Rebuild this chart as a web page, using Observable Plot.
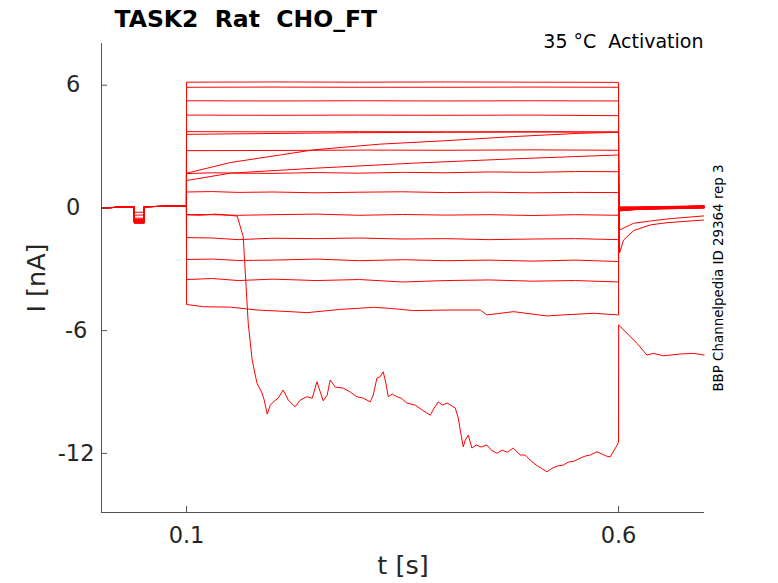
<!DOCTYPE html>
<html><head><meta charset="utf-8">
<script src="https://cdn.jsdelivr.net/npm/d3@7"></script>
<script src="https://cdn.jsdelivr.net/npm/@observablehq/plot@0.6"></script>
<style>
html,body{margin:0;padding:0;background:#fff;}
svg text{white-space:pre;}
</style></head><body><div id="chart"></div>
<script>
const title = "TASK2  Rat  CHO_FT";
const subtitle = "35 °C  Activation";
const sideNote = "BBP Channelpedia ID 29364 rep 3";
const xLabel = "t [s]";
const yLabel = "I [nA]";
const xTicks = [0.1, 0.6];
const xTickLabels = ["0.1", "0.6"];
const yTicks = [-12, -6, 0, 6];
const yTickLabels = ["-12", "-6 ", "0  ", "6  "];
const xDomain = [0.0016, 0.6995];
const yDomain = [-14.89, 8.04];

// pre-step holding segment (shared times), null = test-pulse dip
const preT = [0.002, 0.02, 0.0394, 0.0395, 0.0509, 0.051, 0.075, 0.0999];
const preI = [0.00, 0.03, 0.05, null, null, 0.06, 0.08, 0.10];
const dips = [-0.62, -0.70, -0.55, -0.68, -0.72, -0.60, -0.65, -0.58, -0.74, -0.66, -0.50, -0.35, -0.21, -0.70, -0.64, -0.60, -0.75];

// step segments [t, I]
const step01 = [[0.1,6.15],[0.2,6.16],[0.3,6.15],[0.4,6.16],[0.5,6.15],[0.6,6.14]];
const step02 = [[0.1,5.90],[0.2,5.91],[0.3,5.90],[0.4,5.90],[0.5,5.91],[0.6,5.90]];
const step03 = [[0.1,5.24],[0.2,5.23],[0.3,5.24],[0.4,5.23],[0.5,5.24],[0.6,5.23]];
const step04 = [[0.1,4.54],[0.2,4.53],[0.3,4.54],[0.4,4.53],[0.5,4.54],[0.6,4.51]];
const step05 = [[0.1,3.73],[0.2,3.72],[0.3,3.73],[0.4,3.72],[0.5,3.73],[0.6,3.71]];
const step06 = [[0.1,3.60],[0.15,3.62],[0.2,3.64],[0.25,3.66],[0.3,3.68],[0.35,3.69],[0.4,3.70],[0.5,3.71],[0.6,3.71]];
const step07 = [[0.1,1.70],[0.1236,1.94],[0.1506,2.22],[0.2084,2.59],[0.247,2.84],[0.3242,3.12],[0.4014,3.29],[0.4785,3.49],[0.5557,3.65],[0.6,3.70]];
const step08 = [[0.1,2.80],[0.2,2.81],[0.3,2.83],[0.4,2.82],[0.5,2.84],[0.6,2.82]];
const step09 = [[0.1,1.34],[0.1506,1.70],[0.247,1.94],[0.3628,2.19],[0.4785,2.40],[0.6,2.59]];
const step10 = [[0.1,1.68],[0.13,1.72],[0.16,1.70],[0.2,1.69],[0.25,1.73],[0.3,1.70],[0.35,1.74],[0.4,1.72],[0.45,1.76],[0.5,1.74],[0.55,1.78],[0.6,1.77]];
const step11 = [[0.1,0.78],[0.13,0.80],[0.16,0.76],[0.2,0.78],[0.25,0.74],[0.3,0.77],[0.35,0.79],[0.4,0.75],[0.45,0.77],[0.5,0.74],[0.55,0.76],[0.6,0.75]];
const step12 = [[0.1,-0.32],[0.13,-0.33],[0.16,-0.36],[0.2,-0.33],[0.25,-0.30],[0.3,-0.36],[0.35,-0.32],[0.4,-0.35],[0.45,-0.33],[0.5,-0.37],[0.55,-0.33],[0.6,-0.36]];
const step13 = [[0.1,-0.34],[0.1159,-0.36],[0.1332,-0.30],[0.1506,-0.36],[0.1587,-0.40],[0.1656,-1.40],[0.1714,-5.63],[0.176,-7.44],[0.1815,-8.56],[0.1873,-9.05],[0.1899,-9.39],[0.1934,-10.08],[0.1969,-9.64],[0.2003,-9.49],[0.2061,-9.30],[0.2119,-8.90],[0.2177,-9.39],[0.2223,-9.59],[0.2258,-9.72],[0.2316,-9.39],[0.2394,-9.23],[0.2455,-9.30],[0.2509,-8.50],[0.2548,-9.00],[0.2582,-9.43],[0.2628,-9.15],[0.2663,-8.41],[0.2721,-8.76],[0.2814,-8.81],[0.2895,-9.00],[0.2972,-9.23],[0.3045,-9.30],[0.3126,-9.48],[0.3161,-9.15],[0.3204,-8.32],[0.3242,-8.25],[0.3277,-8.01],[0.3312,-8.66],[0.3335,-9.23],[0.3381,-9.10],[0.3435,-9.23],[0.3485,-9.30],[0.3551,-9.54],[0.3647,-9.64],[0.3728,-9.88],[0.3821,-10.13],[0.3867,-9.78],[0.3913,-9.48],[0.396,-9.64],[0.4017,-9.54],[0.4075,-9.69],[0.411,-9.78],[0.4145,-10.27],[0.4168,-10.86],[0.4203,-11.68],[0.4226,-11.35],[0.4261,-11.11],[0.4303,-11.74],[0.4353,-11.59],[0.4411,-11.69],[0.4477,-11.59],[0.4527,-11.84],[0.4593,-11.99],[0.4654,-11.84],[0.4712,-11.94],[0.4781,-11.74],[0.4862,-12.08],[0.492,-12.08],[0.4978,-12.33],[0.5047,-12.57],[0.5105,-12.72],[0.5171,-12.90],[0.5233,-12.72],[0.5291,-12.62],[0.536,-12.57],[0.5418,-12.43],[0.5487,-12.38],[0.5557,-12.23],[0.5615,-12.13],[0.5673,-12.08],[0.575,-11.92],[0.5812,-12.04],[0.5858,-12.13],[0.5904,-12.17],[0.595,-11.84],[0.5985,-11.59],[0.6,-11.45]];
const step14 = [[0.1,-1.45],[0.13,-1.47],[0.16,-1.55],[0.2,-1.48],[0.25,-1.50],[0.3,-1.47],[0.35,-1.52],[0.4,-1.50],[0.45,-1.55],[0.5,-1.52],[0.55,-1.50],[0.6,-1.55]];
const step15 = [[0.1,-2.52],[0.13,-2.50],[0.16,-2.57],[0.2,-2.55],[0.25,-2.50],[0.3,-2.58],[0.35,-2.53],[0.4,-2.58],[0.45,-2.55],[0.5,-2.60],[0.55,-2.55],[0.6,-2.62]];
const step16 = [[0.1,-3.50],[0.13,-3.45],[0.16,-3.55],[0.2,-3.48],[0.25,-3.55],[0.3,-3.50],[0.35,-3.62],[0.4,-3.55],[0.45,-3.52],[0.5,-3.58],[0.55,-3.55],[0.6,-3.62]];
const step17 = [[0.1,-4.72],[0.1197,-4.83],[0.1506,-4.85],[0.1815,-4.99],[0.22,-5.07],[0.2394,-5.12],[0.2779,-4.96],[0.3164,-4.86],[0.3358,-4.91],[0.3627,-5.02],[0.4014,-4.99],[0.44,-4.99],[0.4477,-5.23],[0.4785,-5.07],[0.5171,-5.28],[0.5363,-5.23],[0.5711,-5.15],[0.6,-5.23]];

// tail segments: values at tailT, or [t, I] pairs
const tailT = [0.6001, 0.62, 0.65, 0.68, 0.699];
const tail01 = [-0.05, 0.00, 0.03, 0.05, 0.08];
const tail02 = [-0.08, -0.02, 0.02, 0.05, 0.06];
const tail03 = [-0.10, -0.04, 0.01, 0.03, 0.05];
const tail04 = [-0.12, -0.06, -0.01, 0.02, 0.03];
const tail05 = [-0.15, -0.08, -0.03, 0.00, 0.02];
const tail06 = [-0.14, -0.07, -0.02, 0.00, 0.01];
const tail07 = [[0.6012,-1.08],[0.6174,-0.75],[0.6367,-0.64],[0.656,-0.54],[0.6984,-0.39]];
const tail08 = [-0.12, -0.08, -0.05, -0.02, 0.00];
const tail09 = [[0.6012,-2.20],[0.6058,-1.57],[0.6174,-1.11],[0.6367,-0.83],[0.656,-0.72],[0.6984,-0.59]];
const tail10 = [-0.10, -0.07, -0.04, -0.02, -0.01];
const tail11 = [-0.06, -0.04, -0.02, 0.00, 0.02];
const tail12 = [-0.03, -0.01, 0.01, 0.03, 0.05];
const tail13 = [[0.6001,-5.72],[0.6097,-6.12],[0.6213,-6.62],[0.6329,-7.19],[0.6405,-7.11],[0.6521,-7.23],[0.6714,-7.14],[0.6868,-7.11],[0.699,-7.19]];
const tail14 = [0.00, 0.01, 0.03, 0.05, 0.07];
const tail15 = [0.02, 0.03, 0.05, 0.07, 0.09];
const tail16 = [0.03, 0.04, 0.06, 0.08, 0.11];
const tail17 = [0.05, 0.05, 0.07, 0.09, 0.12];

const sweeps = [
  [step01, tail01], [step02, tail02], [step03, tail03], [step04, tail04], [step05, tail05],
  [step06, tail06], [step07, tail07], [step08, tail08], [step09, tail09], [step10, tail10],
  [step11, tail11], [step12, tail12], [step13, tail13], [step14, tail14], [step15, tail15],
  [step16, tail16], [step17, tail17]
];

const rows = [];
sweeps.forEach(([step, tail], k) => {
  preT.forEach((t, j) => rows.push({sweep: k, t, I: preI[j] === null ? dips[k] : preI[j]}));
  step.forEach(([t, I]) => rows.push({sweep: k, t, I}));
  tail.forEach((v, j) => Array.isArray(v)
    ? rows.push({sweep: k, t: v[0], I: v[1]})
    : rows.push({sweep: k, t: tailT[j], I: v}));
});

const W = 778, H = 583, mL = 101, mR = 74, mT = 43, mB = 71;
const axisColor = "#555";
const textColor = "#262626";

const chart = Plot.plot({
  width: W, height: H,
  marginLeft: mL, marginRight: mR, marginTop: mT, marginBottom: mB,
  x: {domain: xDomain, axis: null},
  y: {domain: yDomain, axis: null},
  style: {fontFamily: "DejaVu Sans, sans-serif", background: "white", overflow: "visible"},
  marks: [
    Plot.line(rows, {x: "t", y: "I", z: "sweep", stroke: "#ff0000", strokeWidth: 1}),
    Plot.ruleX([xDomain[0]], {stroke: axisColor, strokeWidth: 1}),
    Plot.ruleY([yDomain[0]], {stroke: axisColor, strokeWidth: 1}),
    Plot.tickY(yTicks, {y: d => d, insetRight: (W - mL - mR) - 6, stroke: axisColor}),
    Plot.tickX(xTicks, {x: d => d, insetTop: (H - mT - mB) - 6, stroke: axisColor}),
    Plot.text(yTicks, {y: d => d, frameAnchor: "left", textAnchor: "end", dx: -7,
      text: (d, i) => yTickLabels[i], fontSize: 22.5, fill: textColor}),
    Plot.text(xTicks, {x: d => d, frameAnchor: "bottom", lineAnchor: "bottom", dy: 30,
      text: (d, i) => xTickLabels[i], fontSize: 22.5, fill: textColor}),
    Plot.text([yLabel], {frameAnchor: "left", textAnchor: "middle", rotate: -90, dx: -65, fontSize: 25.5, fill: textColor}),
    Plot.text([xLabel], {frameAnchor: "bottom", textAnchor: "middle", dy: 61, fontSize: 25.5, fill: textColor}),
    Plot.text([title], {frameAnchor: "top-left", textAnchor: "start", lineAnchor: "bottom",
      dx: 13, dy: -17, fontSize: 23.5, fontWeight: "bold", fill: "#000"}),
    Plot.text([subtitle], {frameAnchor: "top-right", textAnchor: "end", lineAnchor: "bottom",
      dx: -1, dy: 4, fontSize: 19, fill: "#000"}),
    Plot.text([sideNote], {frameAnchor: "right", textAnchor: "middle", rotate: -90, dx: 14, fontSize: 13.4, fill: "#000"})
  ]
});
document.getElementById("chart").appendChild(chart);
</script>
</body></html>
